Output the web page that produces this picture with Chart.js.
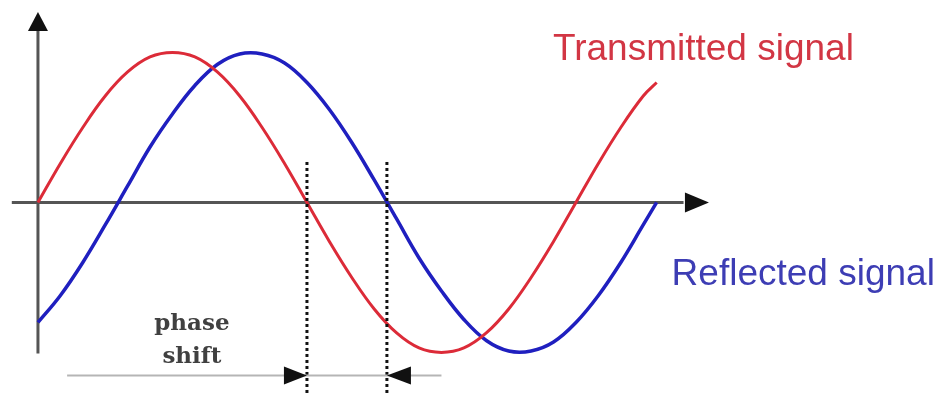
<!DOCTYPE html>
<html>
<head>
<meta charset="utf-8">
<script src="https://cdn.jsdelivr.net/npm/chart.js@4"></script>
<style>
  html, body { margin: 0; padding: 0; background: #fff; }
  #wrap { width: 940px; height: 394px; }
</style>
</head>
<body>
<div id="wrap"><canvas id="chart"></canvas></div>
<script>
// ================== Data ==================
// phase in degrees, amplitude normalised to the peak
const phaseDeg = [0, 15, 30, 45, 60, 75, 90, 105, 120, 135, 150, 165, 180, 195, 210,
  225, 240, 255, 270, 285, 300, 315, 330, 345, 360, 375, 390, 405, 414];
const transmitted = [0, 0.26, 0.5, 0.71, 0.87, 0.97, 1.0, 0.97, 0.87, 0.71, 0.5, 0.26, 0,
  -0.26, -0.5, -0.71, -0.87, -0.97, -1.0, -0.97, -0.87, -0.71, -0.5, -0.26, 0, 0.26, 0.5, 0.71, 0.8];
const reflected = [-0.8, -0.62, -0.4, -0.15, 0.11, 0.37, 0.59, 0.78, 0.92, 0.99, 0.99, 0.93, 0.8,
  0.62, 0.4, 0.15, -0.11, -0.37, -0.59, -0.78, -0.92, -0.99, -0.99, -0.93, -0.8, -0.62, -0.4, -0.15, 0];
const shiftMarks = [180, 233.5]; // zero crossings used for the phase shift

const toPoints = (ys) => phaseDeg.map((x, i) => ({ x: x, y: ys[i] }));

// ================== Helpers ==================
function arrowHead(ctx, tipX, tipY, dir, len, half) {
  // dir: "up", "right", "left"
  ctx.beginPath();
  if (dir === "up") {
    ctx.moveTo(tipX, tipY);
    ctx.lineTo(tipX - half, tipY + len);
    ctx.lineTo(tipX + half, tipY + len);
  } else if (dir === "right") {
    ctx.moveTo(tipX, tipY);
    ctx.lineTo(tipX - len, tipY - half);
    ctx.lineTo(tipX - len, tipY + half);
  } else {
    ctx.moveTo(tipX, tipY);
    ctx.lineTo(tipX + len, tipY - half);
    ctx.lineTo(tipX + len, tipY + half);
  }
  ctx.closePath();
  ctx.fill();
}

// ================== Axes (under the curves) ==================
const axesPlugin = {
  id: "axesPlugin",
  beforeDatasetsDraw(chart) {
    const { ctx, scales: { x, y } } = chart;
    const x0 = x.getPixelForValue(0);
    const y0 = y.getPixelForValue(0);
    ctx.save();
    ctx.strokeStyle = "#555";
    ctx.fillStyle = "#111";
    ctx.lineWidth = 3;
    // x axis
    ctx.beginPath();
    ctx.moveTo(x.getPixelForValue(-17.5), y0);
    ctx.lineTo(x.getPixelForValue(432), y0);
    ctx.stroke();
    arrowHead(ctx, x.getPixelForValue(449), y0, "right", 24, 10);
    // y axis
    ctx.beginPath();
    ctx.moveTo(x0, y.getPixelForValue(-1.007));
    ctx.lineTo(x0, y.getPixelForValue(1.15));
    ctx.stroke();
    arrowHead(ctx, x0, y.getPixelForValue(1.27), "up", 19, 10);
    ctx.restore();
  },
  afterDatasetsDraw(chart) {
    const { ctx, scales: { x, y } } = chart;
    ctx.save();
    // dotted markers at the zero crossings
    ctx.strokeStyle = "#111";
    ctx.lineWidth = 3;
    ctx.setLineDash([3, 3]);
    shiftMarks.forEach((m) => {
      const px = x.getPixelForValue(m);
      ctx.beginPath();
      ctx.moveTo(px, y.getPixelForValue(0.27));
      ctx.lineTo(px, y.getPixelForValue(-1.28));
      ctx.stroke();
    });
    ctx.setLineDash([]);

    // phase shift dimension line
    const ly = y.getPixelForValue(-1.153);
    ctx.strokeStyle = "#b5b5b5";
    ctx.lineWidth = 2;
    ctx.beginPath();
    ctx.moveTo(x.getPixelForValue(19.5), ly);
    ctx.lineTo(x.getPixelForValue(270), ly);
    ctx.stroke();
    ctx.fillStyle = "#111";
    arrowHead(ctx, x.getPixelForValue(shiftMarks[0]), ly, "right", 23, 9);
    arrowHead(ctx, x.getPixelForValue(shiftMarks[1]), ly, "left", 24, 9);

    // labels
    ctx.textAlign = "center";
    ctx.textBaseline = "alphabetic";
    ctx.fillStyle = "#404040";
    ctx.font = "bold 23px 'DejaVu Serif'";
    const cx = x.getPixelForValue(103);
    ctx.fillText("phase", cx, y.getPixelForValue(-0.853));
    ctx.fillText("shift", cx, y.getPixelForValue(-1.073));

    ctx.textAlign = "left";
    ctx.font = "37px 'Liberation Sans'";
    ctx.fillStyle = "#d23644";
    ctx.fillText("Transmitted signal", x.getPixelForValue(344.6), y.getPixelForValue(0.95));
    ctx.fillStyle = "#3d3db4";
    ctx.fillText("Reflected signal", x.getPixelForValue(424), y.getPixelForValue(-0.55));
    ctx.restore();
  },
};

// ================== Chart ==================
new Chart(document.getElementById("chart"), {
  type: "line",
  data: {
    datasets: [
      {
        label: "Transmitted signal",
        data: toPoints(transmitted),
        borderColor: "#dc2b38",
        borderWidth: 3,
        pointRadius: 0,
        tension: 0.4,
        fill: false,
      },
      {
        label: "Reflected signal",
        data: toPoints(reflected),
        borderColor: "#1f1fbf",
        borderWidth: 3.5,
        pointRadius: 0,
        tension: 0.4,
        fill: false,
      },
    ],
  },
  options: {
    responsive: true,
    maintainAspectRatio: false,
    animation: false,
    layout: { padding: 0 },
    plugins: { legend: { display: false }, tooltip: { enabled: false } },
    scales: {
      x: { type: "linear", min: -25.4, max: 603.6, display: false },
      y: { type: "linear", min: -1.277, max: 1.35, display: false },
    },
  },
  plugins: [axesPlugin],
});
</script>
</body>
</html>
